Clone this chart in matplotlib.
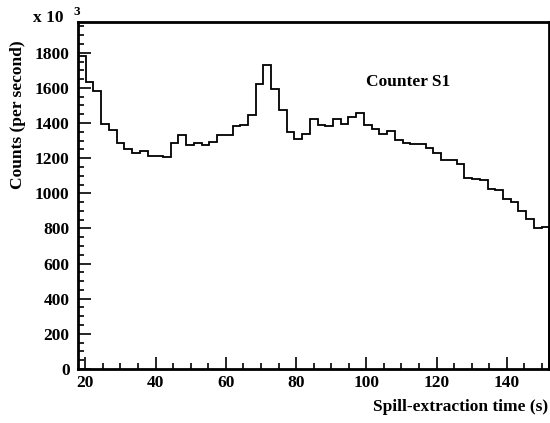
import numpy as np
import matplotlib
matplotlib.use("Agg")
import matplotlib.pyplot as plt
from matplotlib.ticker import MultipleLocator

# -----------------------------
# Histogram data (counts per second, x 10^3)
# -----------------------------
bin_start = 17.9     # s
bin_width = 2.2      # s
counts = [
    1779, 1631, 1582, 1396, 1358, 1288, 1254, 1228, 1241, 1210,
    1210, 1205, 1284, 1330, 1275, 1284, 1275, 1292, 1330, 1332,
    1385, 1390, 1447, 1623, 1732, 1595, 1476, 1349, 1307, 1339,
    1421, 1390, 1383, 1421, 1396, 1434, 1459, 1390, 1368, 1337,
    1356, 1301, 1286, 1281, 1283, 1260, 1231, 1190, 1188, 1169,
    1087, 1083, 1078, 1027, 1017, 970, 949, 900, 854, 803,
    809,
]
x_ticks = [20, 40, 60, 80, 100, 120, 140]
y_ticks = [0, 200, 400, 600, 800, 1000, 1200, 1400, 1600, 1800]

edges = bin_start + bin_width * np.arange(len(counts) + 1)

plt.rcParams["font.family"] = ["Liberation Serif", "DejaVu Serif"]
plt.rcParams["font.weight"] = "bold"
plt.rcParams["font.size"] = 12.5

fig = plt.figure(figsize=(5.5, 4.23), dpi=100)
ax = fig.add_axes([0.1418, 0.1277, 0.857, 0.8203])

ax.stairs(counts, edges, color="black", linewidth=1.3, baseline=0)

# -----------------------------
# Axes formatting (ROOT-like)
# -----------------------------
ax.set_xlim(edges[0], edges[-1])
ax.set_ylim(0, 1975)
ax.set_xticks(x_ticks)
ax.set_yticks(y_ticks)
ax.xaxis.set_minor_locator(MultipleLocator(5))
ax.yaxis.set_minor_locator(MultipleLocator(50))
ax.tick_params(which="both", direction="in", top=False, right=False,
               width=1.2, labelsize=12.5)
ax.tick_params(which="major", length=9)
ax.tick_params(which="minor", length=4.5)
ax.tick_params(axis="y", pad=6)
ax.tick_params(axis="x", pad=4)
for lab in ax.get_xticklabels() + ax.get_yticklabels():
    lab.set_fontweight("bold")
for sp in ax.spines.values():
    sp.set_linewidth(2)

ax.text(0.611, 0.828, "Counter S1", transform=ax.transAxes,
        fontsize=12.5, fontweight="bold", ha="left", va="center")

fig.text(0.06, 1 - 18 / 423, "x 10", fontsize=12.5, fontweight="bold",
         ha="left", va="center")
fig.text(0.134, 1 - 12 / 423, "3", fontsize=9.5, fontweight="bold",
         ha="left", va="center")

fig.text(0.032, 1 - 40 / 423, "Counts (per second)", rotation=90,
         fontsize=12.5, fontweight="bold", ha="center", va="top")
fig.text(0.997, 1 - 407 / 423, "Spill-extraction time (s)",
         fontsize=12.5, fontweight="bold", ha="right", va="center")

fig.savefig("out.png", dpi=100)
